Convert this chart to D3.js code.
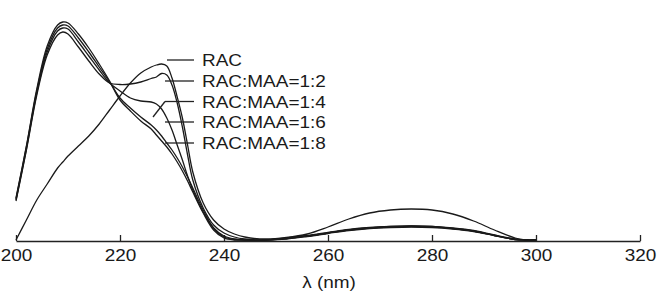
<!DOCTYPE html>
<html>
<head>
<meta charset="utf-8">
<script src="https://cdn.jsdelivr.net/npm/d3@7"></script>
<style>
  body { margin: 0; background: #fff; }
  text { font-family: "Liberation Sans", Arial, sans-serif; fill: #1a1a1a; }
</style>
</head>
<body>
<div id="chart"></div>
<script>
// wavelength grid (nm) shared by all spectra
const wavelengths = [200,202,204,206,208,209,210,212,214,216,218,220,222,224,226,227,228,229,230,231,232,233,234,236,238,240,242,244,248,252,256,260,264,268,272,276,280,284,288,292,296,298,300];

// absorbance (arbitrary units)
const rac   = [0,0.20,0.40,0.56,0.72,0.78,0.84,0.94,1.04,1.16,1.30,1.44,1.57,1.67,1.73,1.75,1.76,1.74,1.62,1.43,1.22,0.95,0.68,0.37,0.20,0.11,0.06,0.03,0.01,0.025,0.06,0.13,0.21,0.27,0.30,0.31,0.30,0.26,0.19,0.10,0.02,0,0];
const maa12 = [0.39,0.90,1.45,1.85,2.05,2.08,2.06,1.93,1.79,1.66,1.57,1.555,1.56,1.58,1.615,1.63,1.665,1.65,1.55,1.37,1.13,0.85,0.60,0.32,0.15,0.07,0.03,0.01,0,0.015,0.04,0.07,0.10,0.12,0.13,0.135,0.13,0.115,0.09,0.045,0.005,0,0];
const maa14 = [0.40,0.91,1.47,1.88,2.09,2.12,2.11,1.98,1.84,1.70,1.57,1.49,1.42,1.39,1.38,1.36,1.31,1.22,1.10,0.95,0.80,0.64,0.50,0.28,0.12,0.04,0.01,0,0,0.02,0.045,0.075,0.105,0.125,0.135,0.14,0.135,0.12,0.095,0.05,0.01,0,0];
const maa16 = [0.41,0.93,1.49,1.91,2.12,2.15,2.14,2.02,1.88,1.73,1.58,1.42,1.32,1.23,1.15,1.10,1.04,0.97,0.90,0.82,0.73,0.63,0.52,0.30,0.12,0.03,0.005,0,0,0.01,0.035,0.065,0.095,0.115,0.125,0.13,0.125,0.11,0.085,0.045,0.005,0,0];
const maa18 = [0.42,0.94,1.51,1.94,2.15,2.18,2.17,2.06,1.92,1.76,1.59,1.40,1.29,1.19,1.11,1.05,0.99,0.93,0.86,0.78,0.69,0.59,0.48,0.27,0.10,0.02,0,0,0,0.015,0.04,0.07,0.10,0.12,0.135,0.14,0.135,0.115,0.09,0.045,0.005,0,0];

const seriesNames = ["RAC", "RAC:MAA=1:2", "RAC:MAA=1:4", "RAC:MAA=1:6", "RAC:MAA=1:8"];
const seriesValues = [rac, maa12, maa14, maa16, maa18];
const xTicks = [200, 220, 240, 260, 280, 300, 320];

const width = 658;
const height = 296;
const fontSize = "16.5px";
const stretch = 1.15; // the original lettering is wide

const svg = d3.select("#chart")
  .append("svg")
  .attr("width", width)
  .attr("height", height);

const x = d3.scaleLinear().domain([200, 320]).range([16, 640]);
const y = d3.scaleLinear().domain([0, 2.2]).range([240, 20]);

// axis with inward ticks
const axis = svg.append("g")
  .attr("transform", "translate(0,241)")
  .call(d3.axisBottom(x).tickValues(xTicks).tickSizeInner(-6).tickSizeOuter(0).tickPadding(8));
axis.select(".domain").attr("stroke", "#222").attr("stroke-width", 1.3);
axis.selectAll(".tick line").attr("stroke", "#222").attr("stroke-width", 1.3);
axis.selectAll(".tick text")
  .style("font-size", fontSize)
  .attr("fill", "#1a1a1a")
  .attr("transform", `scale(${stretch},1)`);

svg.append("text")
  .attr("transform", `translate(329,288) scale(${stretch},1)`)
  .attr("text-anchor", "middle")
  .style("font-size", fontSize)
  .text("λ (nm)");

// spectra
const line = d3.line()
  .x((d, i) => x(wavelengths[i]))
  .y(d => y(d))
  .curve(d3.curveCatmullRom.alpha(0.5));

svg.append("g")
  .selectAll("path")
  .data(seriesValues)
  .join("path")
  .attr("d", d => line(d))
  .attr("fill", "none")
  .attr("stroke", "#1a1a1a")
  .attr("stroke-width", 1.3);

// legend with leader lines
const legendY = [60, 81, 101.5, 122, 143];
const legend = svg.append("g");
legend.selectAll("line.lead")
  .data(seriesNames)
  .join("line")
  .attr("class", "lead")
  .attr("x1", (d, i) => i === 0 ? 167 : 165)
  .attr("x2", 194)
  .attr("y1", (d, i) => legendY[i])
  .attr("y2", (d, i) => legendY[i])
  .attr("stroke", "#222")
  .attr("stroke-width", 1.3);
// the 1:4 leader bends down to its shoulder
legend.append("line")
  .attr("x1", 165).attr("y1", legendY[2])
  .attr("x2", 153).attr("y2", 117)
  .attr("stroke", "#222")
  .attr("stroke-width", 1.3);
legend.selectAll("text")
  .data(seriesNames)
  .join("text")
  .attr("transform", (d, i) => `translate(202,${legendY[i] + 6}) scale(${stretch},1)`)
  .style("font-size", fontSize)
  .text(d => d);
</script>
</body>
</html>
